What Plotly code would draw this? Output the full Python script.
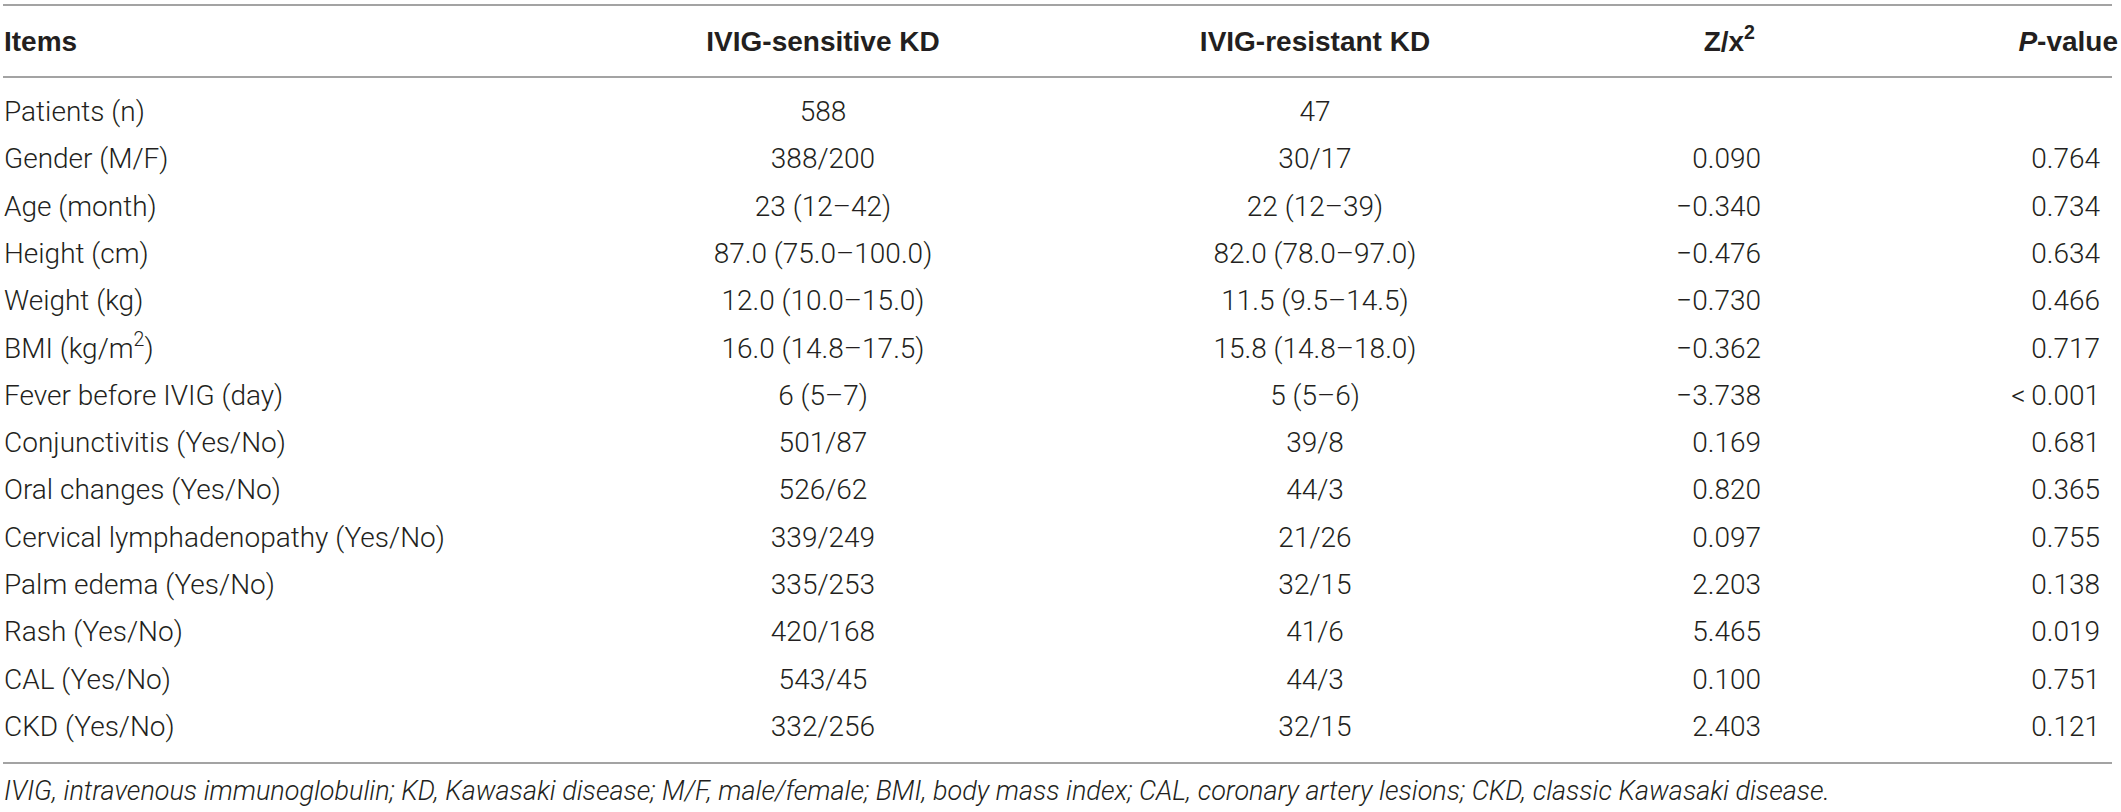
import plotly.graph_objects as go

# Table contents
headers = ["Items", "IVIG-sensitive KD", "IVIG-resistant KD", "Z/x<sup>2</sup>", "<i>P</i>-value"]
items = ["Patients (n)", "Gender (M/F)", "Age (month)", "Height (cm)", "Weight (kg)",
         "BMI (kg/m<sup>2</sup>)", "Fever before IVIG (day)", "Conjunctivitis (Yes/No)",
         "Oral changes (Yes/No)", "Cervical lymphadenopathy (Yes/No)", "Palm edema (Yes/No)",
         "Rash (Yes/No)", "CAL (Yes/No)", "CKD (Yes/No)"]
sensitive = ["588", "388/200", "23 (12–42)", "87.0 (75.0–100.0)", "12.0 (10.0–15.0)",
             "16.0 (14.8–17.5)", "6 (5–7)", "501/87", "526/62", "339/249", "335/253",
             "420/168", "543/45", "332/256"]
resistant = ["47", "30/17", "22 (12–39)", "82.0 (78.0–97.0)", "11.5 (9.5–14.5)",
             "15.8 (14.8–18.0)", "5 (5–6)", "39/8", "44/3", "21/26", "32/15", "41/6",
             "44/3", "32/15"]
z_stat = ["", "0.090", "−0.340", "−0.476", "−0.730", "−0.362", "−3.738", "0.169",
          "0.820", "0.097", "2.203", "5.465", "0.100", "2.403"]
p_value = ["", "0.764", "0.734", "0.634", "0.466", "0.717", "<\u20090.001", "0.681", "0.365",
           "0.755", "0.138", "0.019", "0.751", "0.121"]
note = ("IVIG, intravenous immunoglobulin; KD, Kawasaki disease; M/F, male/female; "
        "BMI, body mass index; CAL, coronary artery lesions; CKD, classic Kawasaki disease.")

W, H = 2121, 812
row_px = 47.3          # pixel height of one row
first_px = 114         # pixel centre of first body row
top = -first_px / row_px
bottom = top + H / row_px

def ypix(p):
    return top + p / row_px

ink = "#231f20"
body_font = dict(family="Roboto", size=28, color=ink, weight=300)
head_font = dict(family="Liberation Sans", size=28, color=ink, weight="bold")

fig = go.Figure()

# body columns: (values, x, textposition); blank cells are left out
columns = [
    (items, 4, "middle right"),
    (sensitive, 823, "middle center"),
    (resistant, 1315, "middle center"),
    (z_stat, 1761, "middle left"),
    (p_value, 2100, "middle left"),
]
for vals, x, pos in columns:
    rows = [i for i, v in enumerate(vals) if v]
    fig.add_trace(go.Scatter(x=[x] * len(rows), y=rows, text=[vals[i] for i in rows],
                             mode="text", textposition=pos, textfont=body_font,
                             hoverinfo="skip", showlegend=False))

# header row
head_x = [4, 823, 1315, 1755, 2118]
head_pos = ["middle right", "middle center", "middle center", "middle left", "middle left"]
hy = ypix(44)
for h, x, pos in zip(headers, head_x, head_pos):
    fig.add_trace(go.Scatter(x=[x], y=[hy], text=[h], mode="text", textposition=pos,
                             textfont=head_font, hoverinfo="skip", showlegend=False))

# footnote
fig.add_trace(go.Scatter(x=[4], y=[ypix(793)], text=[note], mode="text",
                         textposition="middle right",
                         textfont=dict(family="Roboto", size=27, color=ink, weight=300,
                                       style="italic"),
                         hoverinfo="skip", showlegend=False))

# horizontal rules
for p in [5, 77, 763]:
    fig.add_shape(type="line", x0=3, x1=2112, y0=ypix(p), y1=ypix(p),
                  line=dict(color="#a3a3a3", width=2), layer="below")

fig.update_layout(
    width=W, height=H,
    margin=dict(l=0, r=0, t=0, b=0),
    paper_bgcolor="white", plot_bgcolor="white",
    xaxis=dict(range=[0, W], visible=False, fixedrange=True),
    yaxis=dict(range=[bottom, top], visible=False, fixedrange=True),
)

fig.write_html("out.html", config={"displayModeBar": False},
               post_script="document.body.style.margin='0';document.body.style.overflow='hidden';")
